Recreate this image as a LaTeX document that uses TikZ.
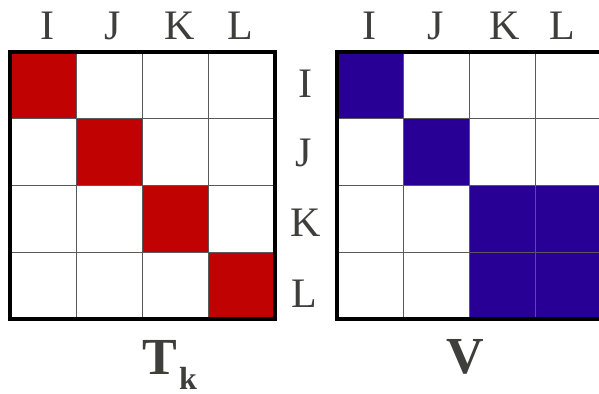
\documentclass[tikz,border=0pt]{standalone}
\usepackage{fontspec}
\setmainfont{Liberation Serif}
\definecolor{cellred}{RGB}{192,2,2}
\definecolor{cellblue}{RGB}{40,0,150}
\definecolor{labelgray}{RGB}{62,62,58}
\tikzset{
  cell/.style={draw=gray!70!black, line width=0.5pt},
  redcell/.style={cell, fill=cellred},
  bluecell/.style={cell, fill=cellblue},
  frame/.style={draw=black, line width=1.6pt},
  idx/.style={inner sep=0pt, text=labelgray, font=\fontsize{21}{21}\selectfont},
  title/.style={inner sep=0pt, text=labelgray, font=\fontsize{26}{26}\selectfont\bfseries}
}

\begin{document}
\begin{tikzpicture}[x=0.5pt, y=-0.5pt]
\useasboundingbox[fill=white] (0,0) rectangle (599,394);

% T_k grid
\foreach \r in {0,...,3}
  \foreach \c in {0,...,3}
    \draw[cell, fill=white] (10+66.25*\c, 52+66.75*\r) rectangle ++(66.25,66.75);
\foreach \i in {0,...,3}
  \draw[redcell] (10+66.25*\i, 52+66.75*\i) rectangle ++(66.25,66.75);
\draw[frame] (10,52) rectangle (275,319);

% V grid
\foreach \r in {0,...,3}
  \foreach \c in {0,...,3}
    \draw[cell, fill=white] (337+66.25*\c, 52+66.75*\r) rectangle ++(66.25,66.75);
\draw[bluecell] (337,52) rectangle ++(66.25,66.75);
\draw[bluecell] (403.25,118.75) rectangle ++(66.25,66.75);
\foreach \r in {2,3}
  \foreach \c in {2,3}
    \draw[bluecell] (337+66.25*\c, 52+66.75*\r) rectangle ++(66.25,66.75);
\draw[frame] (337,52) rectangle (602,319);

% column labels
\node[idx] (tcolI) at (47,26) {I};
\node[idx] (tcolJ) at (113,26) {J};
\node[idx] (tcolK) at (180,26) {K};
\node[idx] (tcolL) at (240,26) {L};
\node[idx] (vcolI) at (369,26) {I};
\node[idx] (vcolJ) at (436,26) {J};
\node[idx] (vcolK) at (505,26) {K};
\node[idx] (vcolL) at (562,26) {L};

% row labels
\node[idx] (rowI) at (305,84) {I};
\node[idx] (rowJ) at (304,153) {J};
\node[idx] (rowK) at (306,223) {K};
\node[idx] (rowL) at (304,294) {L};

% titles
\node[title, anchor=base west] (tk) at (142,375)
  {T\kern1pt\raisebox{-7.5pt}{\fontsize{16}{16}\selectfont k}};
\node[title] (v) at (465,357) {V};
\end{tikzpicture}
\end{document}
